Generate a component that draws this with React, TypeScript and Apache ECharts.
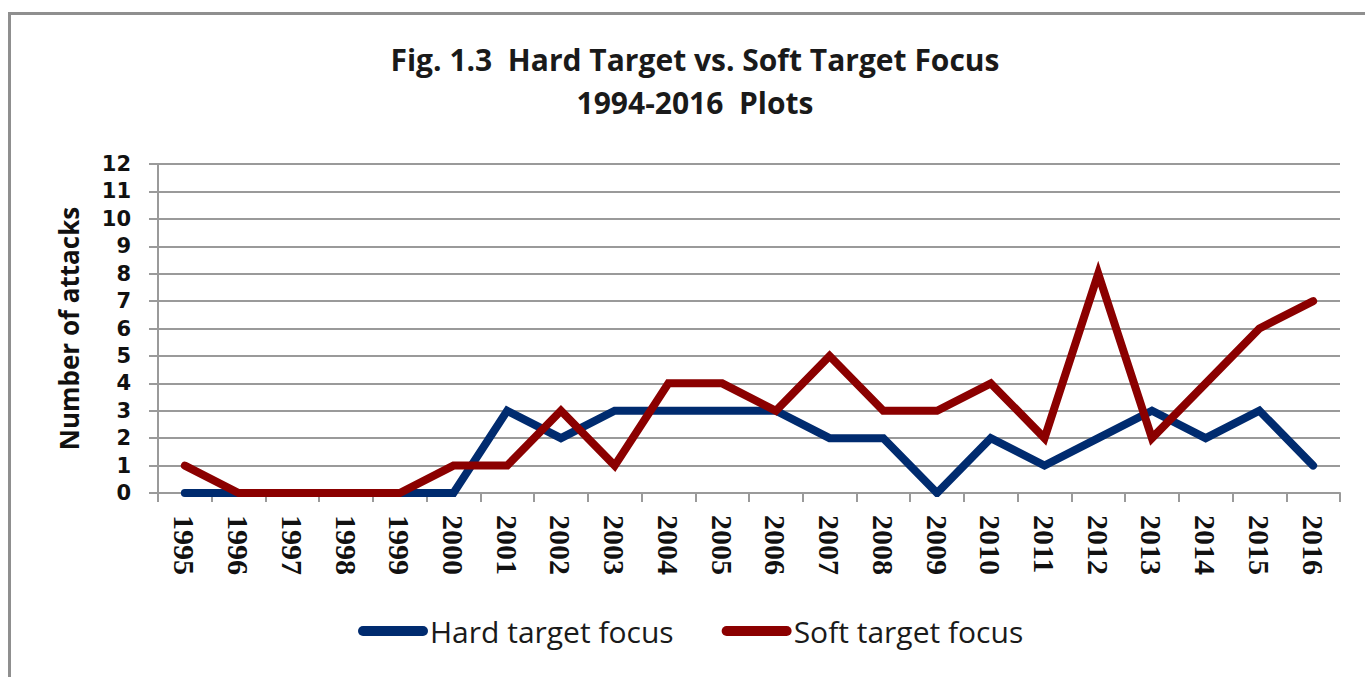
import React, { useEffect, useRef } from "react";
import * as echarts from "echarts";

const years = ["1995","1996","1997","1998","1999","2000","2001","2002","2003","2004","2005","2006","2007","2008","2009","2010","2011","2012","2013","2014","2015","2016"];
const hardTarget = [0,0,0,0,0,0,3,2,3,3,3,3,2,2,0,2,1,2,3,2,3,1];
const softTarget = [1,0,0,0,0,1,1,3,1,4,4,3,5,3,3,4,2,8,2,4,6,7];
const yTicks = { min: 0, max: 12, interval: 1 };

const SANS = "'Open Sans', 'Noto Sans', sans-serif";
const WIDE = "'DejaVu Sans', 'Open Sans', sans-serif";
const SERIF = "'Liberation Serif', 'DejaVu Serif', serif";
const pill = "path://M5,0 H65 A5,5 0 0 1 65,10 H5 A5,5 0 0 1 5,0 Z";

export default function App() {
  const ref = useRef<HTMLDivElement>(null);
  useEffect(() => {
    const chart = echarts.init(ref.current!, undefined, { renderer: "svg" });
    chart.setOption({
      animation: false,
      backgroundColor: "#ffffff",
      graphic: [
        {
          type: "rect",
          shape: { x: 9.5, y: 13.5, width: 1420, height: 720 },
          style: { fill: "none", stroke: "#8f8f8f", lineWidth: 3 },
          silent: true,
        },
      ],
      title: {
        text: "Fig. 1.3  Hard Target vs. Soft Target Focus\n1994-2016  Plots",
        left: 690,
        top: 33,
        textAlign: "center",
        textStyle: {
          fontFamily: SANS,
          fontSize: 30,
          fontWeight: "bold",
          color: "#1a1a1a",
          lineHeight: 43,
        },
      },
      legend: {
        data: [
          { name: "Hard target focus", icon: pill, itemStyle: { color: "#002b6f" } },
          { name: "Soft target focus", icon: pill, itemStyle: { color: "#8b0000" } },
        ],
        left: 353,
        top: 611,
        itemWidth: 70,
        itemHeight: 11,
        itemGap: 48,
        textStyle: { fontFamily: SANS, fontSize: 30, color: "#1a1a1a", padding: [0, 0, 0, -3] },
      },
      grid: { left: 158, right: 25, top: 164, bottom: 184, containLabel: false },
      xAxis: {
        type: "category",
        data: years,
        boundaryGap: true,
        axisLine: { lineStyle: { color: "#9a9a9a", width: 2 } },
        axisTick: { show: true, length: 9, lineStyle: { color: "#9a9a9a", width: 2 } },
        axisLabel: {
          rotate: -90,
          margin: 22,
          interval: 0,
          fontFamily: SERIF,
          fontWeight: "bold",
          fontSize: 30,
          lineHeight: 26,
          color: "#111111",
        },
      },
      yAxis: {
        type: "value",
        min: yTicks.min,
        max: yTicks.max,
        interval: yTicks.interval,
        name: "Number of attacks",
        nameLocation: "middle",
        nameRotate: 90,
        nameGap: 76,
        nameTextStyle: { fontFamily: SANS, fontSize: 26, fontWeight: "bold", color: "#111111" },
        axisLine: { show: true, lineStyle: { color: "#9a9a9a", width: 2 } },
        axisTick: { show: true, length: 9, lineStyle: { color: "#9a9a9a", width: 2 } },
        splitLine: { show: true, lineStyle: { color: "#9a9a9a", width: 2 } },
        axisLabel: {
          margin: 27,
          fontFamily: WIDE,
          fontWeight: "bold",
          fontSize: 21,
          lineHeight: 21,
          color: "#111111",
        },
      },
      series: [
        {
          name: "Hard target focus",
          type: "line",
          data: hardTarget,
          showSymbol: false,
          symbol: "none",
          color: "#002b6f",
          lineStyle: { width: 8, color: "#002b6f", cap: "round", join: "miter" },
          z: 2,
        },
        {
          name: "Soft target focus",
          type: "line",
          data: softTarget,
          showSymbol: false,
          symbol: "none",
          color: "#8b0000",
          lineStyle: { width: 8, color: "#8b0000", cap: "round", join: "miter" },
          z: 3,
        },
      ],
    });
    return () => chart.dispose();
  }, []);
  return (
    <div
      ref={ref}
      style={{ position: "fixed", left: 0, top: 0, width: 1365, height: 677 }}
    />
  );
}
